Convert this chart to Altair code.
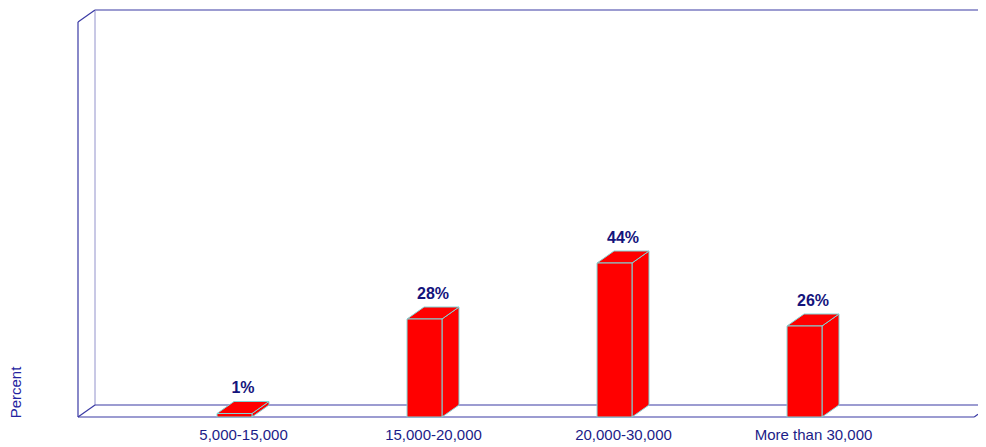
import json
import altair as alt
import pandas as pd

# ---- data ----
categories = ["5,000-15,000", "15,000-20,000", "20,000-30,000", "More than 30,000"]
percents = [1, 28, 44, 26]
labels = ["1%", "28%", "44%", "26%"]

# ---- geometry / style constants (data units) ----
X_MIN, X_MAX = -0.8237, 3.913     # category-index scale
Y_MAX = 116.3                     # percent scale
HALF_W = 0.092                    # half bar width (index units)
DX = 0.0895                       # 3D depth in x
DY = 3.43                         # 3D depth in y (percent units)
FRONT_TOP = Y_MAX - DY

RED = "#ff0000"
EDGE = "#7fd6d6"
FRAME = "#3a3aa4"
FRAME_LIGHT = "#a4a4d4"
NAVY = "#14147c"
FONT = "Liberation Sans"

xs = alt.Scale(domain=[X_MIN, X_MAX], nice=False, zero=False)
ys = alt.Scale(domain=[0, Y_MAX], nice=False, zero=False)

# ---- axes (labels only) -- first layer so its axis settings win ----
tick_vals = [i + DX / 2 for i in range(len(categories))]
label_expr = json.dumps(categories) + f"[round(datum.value - {DX / 2})]"
axes_df = pd.DataFrame({"x": tick_vals, "y": [0] * len(tick_vals)})
axes = alt.Chart(axes_df).mark_point(opacity=0).encode(
    x=alt.X("x:Q", scale=xs, axis=alt.Axis(
        values=tick_vals, labelExpr=label_expr, title=None, domain=False,
        ticks=False, grid=False, labelFont=FONT, labelFontSize=15,
        labelColor="#1c1c88", labelPadding=10, labelFlush=False,
        labelOverlap=False,
    )),
    y=alt.Y("y:Q", scale=ys, axis=alt.Axis(
        title="Percent", labels=False, ticks=False, domain=False, grid=False,
        titleFont=FONT, titleFontSize=15, titleFontWeight="normal",
        titleColor="#2323a0", titleAngle=270, titleX=-63, titleY=382,
        titleAlign="center", titleBaseline="middle",
    )),
)

# ---- frame lines ----
x_right_front = X_MAX - 0.02
frame = pd.DataFrame([
    # back plane
    dict(x=X_MIN + DX, x2=X_MAX, y=Y_MAX, y2=Y_MAX, c=FRAME),
    dict(x=X_MIN + DX, x2=X_MIN + DX, y=DY, y2=Y_MAX, c=FRAME_LIGHT),
    dict(x=X_MIN + DX, x2=X_MAX, y=DY, y2=DY, c=FRAME),
    # front left edge + diagonals
    dict(x=X_MIN, x2=X_MIN, y=0, y2=FRONT_TOP, c=FRAME),
    dict(x=X_MIN, x2=X_MIN + DX, y=FRONT_TOP, y2=Y_MAX, c=FRAME),
    dict(x=X_MIN, x2=X_MIN + DX, y=0, y2=DY, c=FRAME),
    # front floor + right diagonal
    dict(x=X_MIN, x2=x_right_front, y=0, y2=0, c=FRAME),
    dict(x=x_right_front, x2=X_MAX, y=0, y2=DY * 0.02 / DX, c=FRAME),
])

frame_layer = alt.Chart(frame).mark_rule(strokeWidth=1.2).encode(
    x=alt.X("x:Q", scale=xs),
    x2="x2:Q",
    y=alt.Y("y:Q", scale=ys),
    y2="y2:Q",
    color=alt.Color("c:N", scale=None),
)

# ---- bars ----
rows_front, rows_side, rows_top, rows_text = [], [], [], []
for i, (cat, v, lab) in enumerate(zip(categories, percents, labels)):
    xl, xr = i - HALF_W, i + HALF_W
    rows_front.append(dict(cat=cat, x=xl, x2=xr, y=0, y2=v))
    rows_side += [
        dict(cat=cat, x=xr, y=0, y2=v),
        dict(cat=cat, x=xr + DX, y=DY, y2=v + DY),
    ]
    rows_top += [
        dict(cat=cat, x=xl, y=v, y2=v),
        dict(cat=cat, x=xl + DX, y=v, y2=v + DY),
        dict(cat=cat, x=xr, y=v, y2=v + DY),
        dict(cat=cat, x=xr + DX, y=v + DY, y2=v + DY),
    ]
    rows_text.append(dict(cat=cat, x=i + DX / 2, y=v + DY, t=lab))

side = alt.Chart(pd.DataFrame(rows_side)).mark_area(
    color=RED, stroke=EDGE, strokeWidth=1, opacity=1
).encode(
    x=alt.X("x:Q", scale=xs),
    y=alt.Y("y:Q", scale=ys),
    y2="y2:Q",
    detail="cat:N",
)

top = alt.Chart(pd.DataFrame(rows_top)).mark_area(
    color=RED, stroke=EDGE, strokeWidth=1, opacity=1
).encode(
    x=alt.X("x:Q", scale=xs),
    y=alt.Y("y:Q", scale=ys),
    y2="y2:Q",
    detail="cat:N",
)

front = alt.Chart(pd.DataFrame(rows_front)).mark_rect(
    color=RED, stroke=EDGE, strokeWidth=1
).encode(
    x=alt.X("x:Q", scale=xs),
    x2="x2:Q",
    y=alt.Y("y:Q", scale=ys),
    y2="y2:Q",
)

text = alt.Chart(pd.DataFrame(rows_text)).mark_text(
    font=FONT, fontSize=16, fontWeight="bold", color=NAVY,
    baseline="bottom", align="center", dy=-5,
).encode(
    x=alt.X("x:Q", scale=xs),
    y=alt.Y("y:Q", scale=ys),
    text="t:N",
)

chart = alt.layer(axes, frame_layer, side, top, front, text).properties(
    width=900, height=407,
    autosize=alt.AutoSizeParams(type="none"),
    padding={"left": 70, "top": 2, "right": 0, "bottom": 30},
).configure_view(stroke=None)

chart.save("out.html", embed_options={"renderer": "svg", "actions": False})
